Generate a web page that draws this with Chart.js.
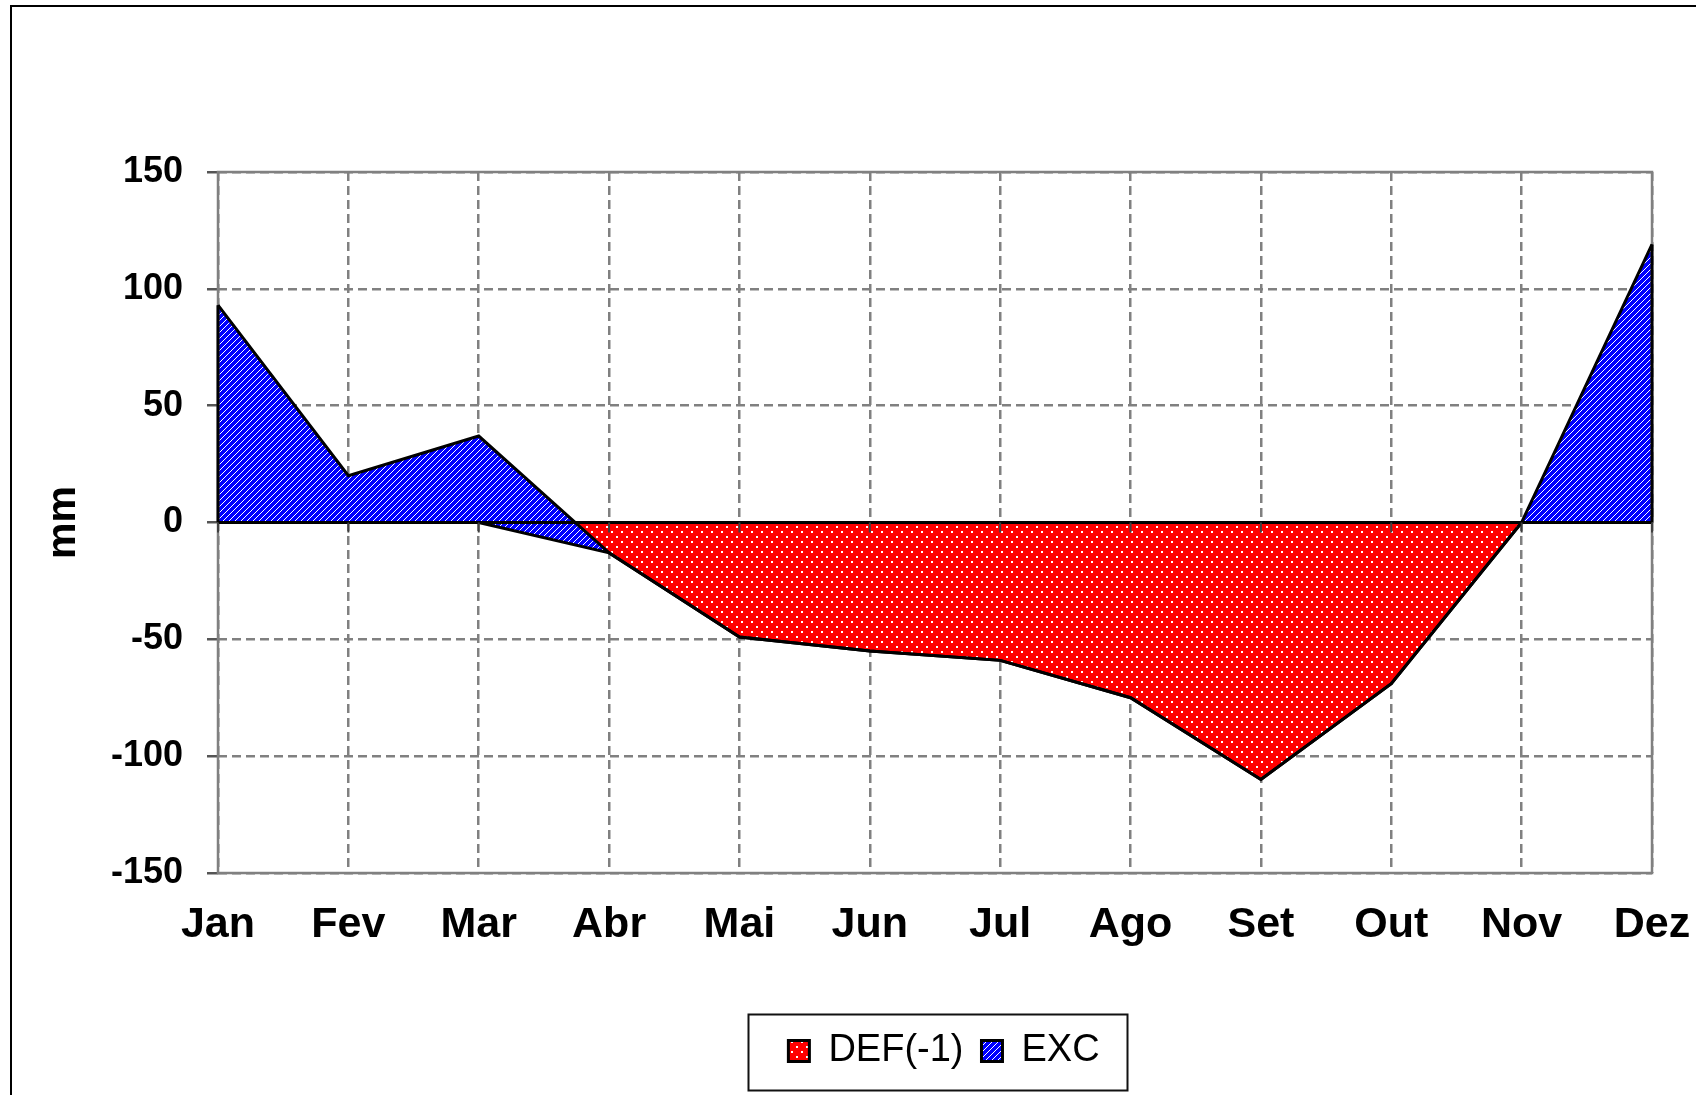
<!DOCTYPE html>
<html>
<head>
<meta charset="utf-8">
<title>DEF / EXC</title>
<script src="https://cdn.jsdelivr.net/npm/chart.js@4/dist/chart.umd.min.js"></script>
<style>
  html, body { margin: 0; padding: 0; background: #fff; overflow: hidden; width: 1696px; height: 1095px; }
  .frame { position: absolute; left: 10px; top: 5px; width: 2000px; height: 2000px;
    border-left: 2px solid #000; border-top: 2px solid #000; }
  #balanceChart { position: absolute; left: 0; top: 0; }
</style>
</head>
<body>
<div class="frame"></div>
<canvas id="balanceChart" width="1879" height="1095"></canvas>
<script>
const months = ["Jan", "Fev", "Mar", "Abr", "Mai", "Jun", "Jul", "Ago", "Set", "Out", "Nov", "Dez"];
const def = [0, 0, 0, -13, -49, -55, -59, -75, -110, -69, 0, 0];
const exc = [93, 20, 37, 0, 0, 0, 0, 0, 0, 0, 0, 119];
const yTicks = [-150, -100, -50, 0, 50, 100, 150];

window.addEventListener("DOMContentLoaded", () => {
	const ctx = document.getElementById("balanceChart").getContext("2d");
	const font = "Arial, 'Liberation Sans', sans-serif";

	// fill patterns, like the excel ones
	function makePattern(size, draw) {
		const c = document.createElement("canvas");
		c.width = size;
		c.height = size;
		draw(c.getContext("2d"));
		return ctx.createPattern(c, "repeat");
	}
	const redDots = makePattern(10, (g) => {
		g.fillStyle = "#ff0000";
		g.fillRect(0, 0, 10, 10);
		g.fillStyle = "#ffffff";
		g.fillRect(1, 1, 2, 2);
		g.fillRect(6, 6, 2, 2);
	});
	const blueHatch = makePattern(6, (g) => {
		g.fillStyle = "#0000ff";
		g.fillRect(0, 0, 6, 6);
		g.fillStyle = "#ffffff";
		for (let i = 0; i < 6; i++) g.fillRect(i, 5 - i, 1, 1);
	});

	// EXC is stacked on top of DEF
	const excTop = exc.map((v, i) => v + def[i]);

	const overlay = {
		id: "overlay",
		afterLayout(chart) {
			// excel centres the legend on a wider chart than the visible part
			chart.legend.left += 118;
			chart.legend.right += 118;
		},
		beforeDatasetsDraw(chart) {
			const { ctx, chartArea: a } = chart;
			ctx.save();
			ctx.strokeStyle = "#808080";
			ctx.lineWidth = 2.5;
			ctx.strokeRect(a.left, a.top, a.right - a.left, a.bottom - a.top);
			ctx.restore();
		},
		afterDatasetsDraw(chart) {
			const { ctx, chartArea: a, scales: { x, y } } = chart;
			const y0 = y.getPixelForValue(0);
			ctx.save();
			ctx.strokeStyle = "#000";
			ctx.lineWidth = 3;
			ctx.beginPath();
			ctx.moveTo(a.left, y0);
			ctx.lineTo(a.right, y0);
			[0, months.length - 1].forEach((i) => {
				const px = x.getPixelForValue(i);
				ctx.moveTo(px, y.getPixelForValue(def[i]));
				ctx.lineTo(px, y.getPixelForValue(excTop[i]));
			});
			ctx.stroke();
			ctx.strokeStyle = "#404040";
			ctx.lineWidth = 2;
			ctx.beginPath();
			months.forEach((m, i) => {
				const px = x.getPixelForValue(i);
				ctx.moveTo(px, y0);
				ctx.lineTo(px, y0 + 10);
			});
			ctx.stroke();
			ctx.restore();
		},
		afterDraw(chart) {
			const hb = chart.legend.legendHitBoxes;
			if (!hb || !hb.length) return;
			const first = hb[0];
			const last = hb[hb.length - 1];
			const x0 = first.left - 40;
			const x1 = last.left + last.width + 28;
			const cy = first.top + first.height / 2;
			const c = chart.ctx;
			c.save();
			c.strokeStyle = "#111";
			c.lineWidth = 2;
			c.strokeRect(Math.round(x0) + 0.5, Math.round(cy - 37) + 0.5, Math.round(x1 - x0), 76);
			c.restore();
		},
	};

	const config = {
		type: "line",
		data: {
			labels: months,
			datasets: [
				{
					label: "DEF(-1)",
					data: def,
					order: 1,
					backgroundColor: redDots,
					borderColor: "#000",
					borderWidth: 3,
					fill: "origin",
				},
				{
					label: "EXC",
					data: excTop,
					order: 0,
					backgroundColor: blueHatch,
					borderColor: "#000",
					borderWidth: 3,
					fill: 0,
				},
			],
		},
		options: {
			responsive: false,
			devicePixelRatio: 1,
			animation: false,
			events: [],
			elements: {
				point: { radius: 0 },
				line: { tension: 0 },
			},
			layout: {
				padding: { left: 0, top: 172, right: 227, bottom: 15 },
			},
			scales: {
				x: {
					offset: false,
					grid: { color: "#808080", lineWidth: 2.5, drawTicks: false },
					border: { display: false, dash: [9, 5] },
					ticks: {
						color: "#000",
						padding: 26,
						maxRotation: 0,
						autoSkip: false,
						font: { family: font, size: 43, weight: "bold" },
					},
					afterFit(scale) {
						scale.height = 141;
					},
				},
				y: {
					min: -150,
					max: 150,
					afterBuildTicks(scale) {
						scale.ticks = yTicks.map((v) => ({ value: v }));
					},
					grid: {
						color: "#808080",
						lineWidth: 2.5,
						tickLength: 11,
						tickColor: "#555",
						tickBorderDash: [],
					},
					border: { display: false, dash: [9, 5] },
					ticks: {
						color: "#000",
						padding: 24,
						font: { family: font, size: 36, weight: "bold" },
					},
					title: {
						display: true,
						text: "mm",
						color: "#000",
						padding: { top: 39, bottom: 0 },
						font: { family: font, size: 41, weight: "bold" },
					},
					afterFit(scale) {
						scale.width = 218;
					},
				},
			},
			plugins: {
				filler: { drawTime: "beforeDatasetsDraw" },
				tooltip: { enabled: false },
				legend: {
					position: "bottom",
					labels: {
						color: "#000",
						boxWidth: 21,
						boxHeight: 21,
						padding: 18,
						font: { family: font, size: 38 },
						sort: (a, b) => a.datasetIndex - b.datasetIndex,
					},
				},
			},
		},
		plugins: [overlay],
	};

	new Chart(ctx, config);
});
</script>
</body>
</html>
